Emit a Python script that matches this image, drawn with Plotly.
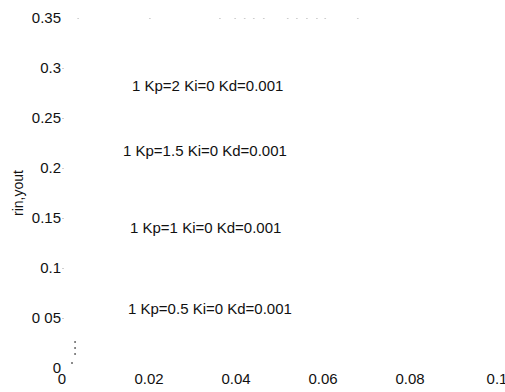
import plotly.graph_objects as go

# Axis ticks
x_ticks = [0, 0.02, 0.04, 0.06, 0.08, 0.1]
x_tick_labels = ["0", "0.02", "0.04", "0.06", "0.08", "0.1"]
y_ticks = [0, 0.05, 0.1, 0.15, 0.2, 0.25, 0.3, 0.35]
y_tick_labels = ["0", "0 05", "0.1", "0.15", "0.2", "0.25", "0.3", "0.35"]

# Curve labels (gtext) and their positions
label_texts = ["1 Kp=2 Ki=0 Kd=0.001", "1 Kp=1.5 Ki=0 Kd=0.001",
               "1 Kp=1 Ki=0 Kd=0.001", "1 Kp=0.5 Ki=0 Kd=0.001"]
label_x = [0.0335, 0.0329, 0.0329, 0.034]
label_y = [0.283, 0.218, 0.141, 0.060]

# Faded remnants of the plotted lines
top_x = [0.0037, 0.0202, 0.0363, 0.0398, 0.0420, 0.0441, 0.0464,
         0.0519, 0.0540, 0.0563, 0.0586, 0.0605, 0.0680]
top_y = [0.35] * len(top_x)
rise_x = [0.0023, 0.0030, 0.0030, 0.0030]
rise_y = [0.005, 0.014, 0.020, 0.026]

FONT = "Liberation Sans, Arial"

fig = go.Figure()
fig.add_trace(go.Scatter(x=top_x, y=top_y, mode="markers",
                         marker=dict(size=2, color="#c8c8c8"),
                         hoverinfo="skip", showlegend=False))
fig.add_trace(go.Scatter(x=rise_x, y=rise_y, mode="markers",
                         marker=dict(size=2, color="#666666"),
                         hoverinfo="skip", showlegend=False))

for t, x, y in zip(label_texts, label_x, label_y):
    fig.add_annotation(x=x, y=y, text=t, showarrow=False, xanchor="center",
                       yanchor="middle",
                       font=dict(family=FONT, size=15, color="#111111"))

fig.update_layout(
    width=505, height=392,
    margin=dict(l=62, r=8, t=18, b=24),
    paper_bgcolor="white", plot_bgcolor="white",
    font=dict(family=FONT, size=15, color="#111111"),
    xaxis=dict(range=[0, 0.1], tickvals=x_ticks, ticktext=x_tick_labels,
               showgrid=False, zeroline=False, showline=False,
               ticks="", automargin=False, ticklabeloverflow="allow"),
    yaxis=dict(range=[0, 0.35], tickvals=y_ticks, ticktext=y_tick_labels,
               showgrid=False, zeroline=False, showline=False,
               ticks="inside", ticklen=2, tickcolor="#d0d0d0",
               automargin=False, ticklabeloverflow="allow",
               title=dict(text="rin,yout", standoff=4,
                          font=dict(family=FONT, size=14))),
)

# Remove the default page margin so the figure fills the window exactly
fig.write_html(
    "out.html",
    config={"displayModeBar": False},
    post_script="document.body.style.margin='0';document.body.style.overflow='hidden';",
)
